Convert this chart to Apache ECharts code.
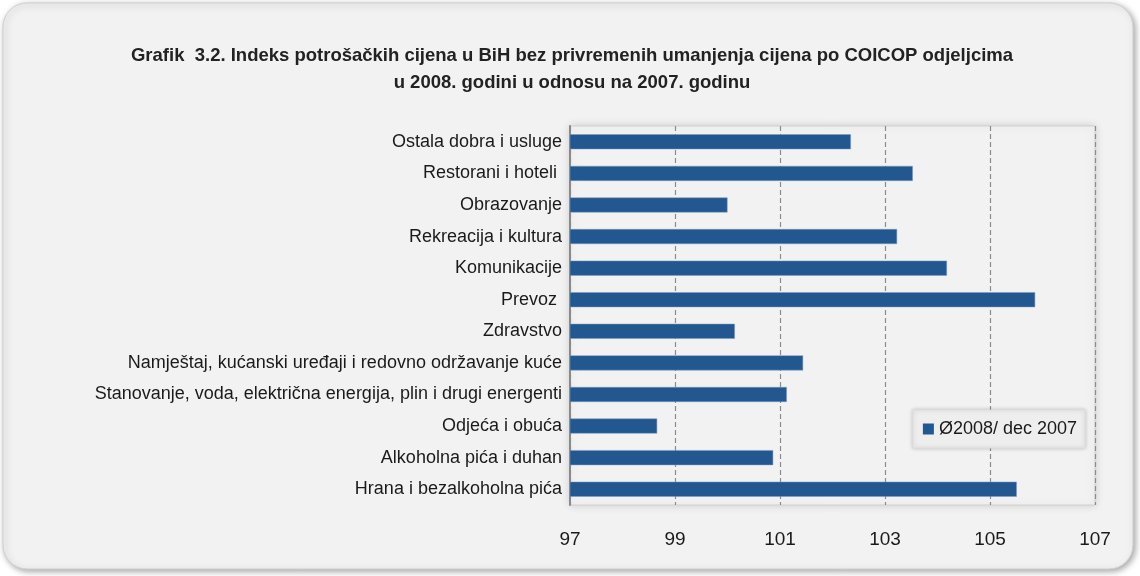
<!DOCTYPE html>
<html>
<head>
<meta charset="utf-8">
<script src="https://cdn.jsdelivr.net/npm/echarts@6/dist/echarts.min.js"></script>
<style>
  html, body { margin: 0; padding: 0; background: #ffffff; }
  #chart { width: 1140px; height: 576px; }
</style>
</head>
<body>
<div id="chart"></div>
<script>
// kategorije odozgo prema dolje (kao na slici)
var categories = [
    'Ostala dobra i usluge',
    'Restorani i hoteli ',
    'Obrazovanje',
    'Rekreacija i kultura',
    'Komunikacije',
    'Prevoz ',
    'Zdravstvo',
    'Namještaj, kućanski uređaji i redovno održavanje kuće',
    'Stanovanje, voda, električna energija, plin i drugi energenti',
    'Odjeća i obuća',
    'Alkoholna pića i duhan',
    'Hrana i bezalkoholna pića'
];
var values = [102.35, 103.53, 100.0, 103.23, 104.18, 105.86, 100.14, 101.44, 101.13, 98.66, 100.87, 105.51];
var seriesName = 'Ø2008/ dec 2007';
var xTicks = [97, 99, 101, 103, 105, 107];

var titleText = 'Grafik  3.2. Indeks potrošačkih cijena u BiH bez privremenih umanjenja cijena po COICOP odjeljcima\nu 2008. godini u odnosu na 2007. godinu';

var barColor = '#23578f';
var labelFont = '"Liberation Sans", Arial, sans-serif';

var chart = echarts.init(document.getElementById('chart'));

var option = {
    backgroundColor: '#ffffff',
    animation: false,
    graphic: [{
        type: 'rect',
        z: -10,
        shape: { x: 3, y: 3, width: 1130, height: 566, r: 24 },
        style: {
            fill: '#f2f2f2',
            stroke: '#d0d0d0',
            lineWidth: 1,
            shadowBlur: 6,
            shadowColor: 'rgba(0,0,0,0.35)',
            shadowOffsetX: 2,
            shadowOffsetY: 2
        }
    }],
    title: {
        text: titleText,
        left: 567,
        textAlign: 'center',
        top: 37,
        textStyle: {
            fontFamily: labelFont,
            fontWeight: 'bold',
            fontSize: 18.5,
            lineHeight: 27,
            color: '#222222'
        }
    },
    legend: {
        data: [seriesName],
        right: 55,
        top: 410,
        orient: 'horizontal',
        backgroundColor: '#eeeeee',
        borderColor: '#dddddd',
        borderWidth: 1,
        padding: [10, 8, 10, 10],
        itemWidth: 11,
        itemHeight: 11,
        itemGap: 4,
        icon: 'rect',
        itemStyle: { borderWidth: 0 },
        shadowBlur: 4,
        shadowColor: 'rgba(0,0,0,0.2)',
        textStyle: {
            fontFamily: labelFont,
            fontSize: 18,
            color: '#1a1a1a'
        }
    },
    grid: {
        left: 570,
        right: 45,
        top: 126,
        bottom: 71,
        show: true,
        backgroundColor: '#f2f2f2',
        borderColor: '#cfcfcf',
        borderWidth: 1,
        shadowBlur: 8,
        shadowColor: 'rgba(0,0,0,0.15)'
    },
    xAxis: {
        type: 'value',
        min: 97,
        max: 107,
        interval: 2,
        axisLine: { show: false },
        axisTick: { show: false },
        axisLabel: {
            margin: 25,
            fontFamily: labelFont,
            fontSize: 19,
            color: '#1a1a1a',
            formatter: function (v) {
                return xTicks.indexOf(v) >= 0 ? String(v) : '';
            }
        },
        splitLine: {
            show: true,
            lineStyle: { color: '#8c8c8c', type: [5, 3], width: 1.2 }
        }
    },
    yAxis: {
        type: 'category',
        inverse: true,
        data: categories,
        axisLine: { show: true, lineStyle: { color: '#8a8a8a', width: 2 } },
        axisTick: { show: false },
        axisLabel: {
            margin: 8,
            fontFamily: labelFont,
            fontSize: 18,
            color: '#1a1a1a'
        },
        splitLine: { show: false }
    },
    series: [{
        name: seriesName,
        type: 'bar',
        data: values,
        barWidth: 15,
        itemStyle: { color: barColor, borderColor: '#7d9cc0', borderWidth: 0.5 }
    }]
};

chart.setOption(option);
</script>
</body>
</html>
